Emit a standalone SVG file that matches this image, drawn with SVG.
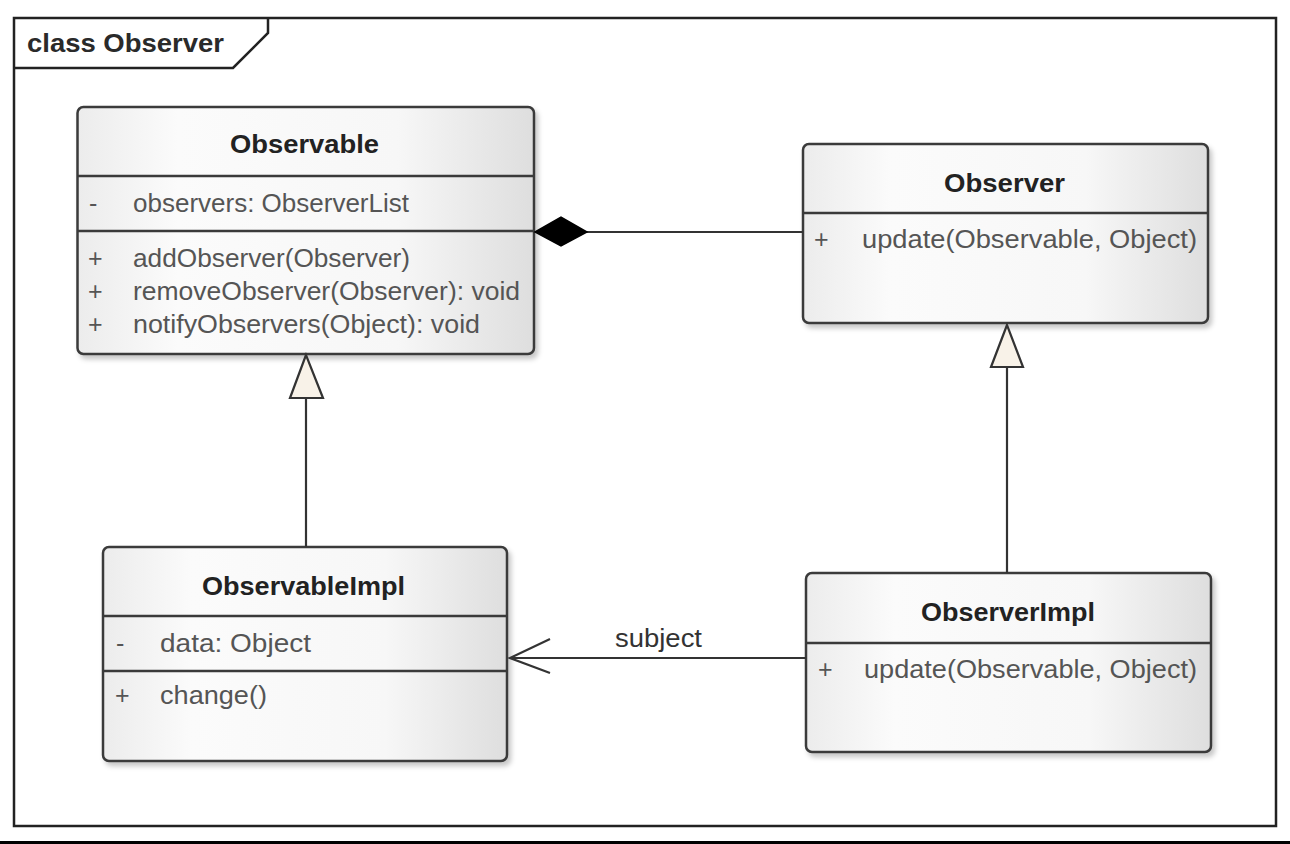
<svg xmlns="http://www.w3.org/2000/svg" width="1290" height="844" viewBox="0 0 1290 844">
  <style>
    .box { stroke: #3a3a3a; stroke-width: 2.5; fill: url(#boxfill); filter: url(#shadow); }
    .sep { stroke: #3a3a3a; stroke-width: 2.5; fill: none; }
    .title { font-family: "Liberation Sans", Arial, sans-serif; font-weight: bold; font-size: 25px; fill: #222; }
    .member { font-family: "Liberation Sans", Arial, sans-serif; font-size: 25px; fill: #555; }
    .frame-title { font-family: "Liberation Sans", Arial, sans-serif; font-weight: bold; font-size: 25px; fill: #2a2a2a; }
    .conn { stroke: #333; stroke-width: 2.2; fill: none; }
    .label { font-family: "Liberation Sans", Arial, sans-serif; font-size: 25px; fill: #333; }
  </style>
  <defs>
    <linearGradient id="boxfill" x1="0" y1="0" x2="1" y2="0">
      <stop offset="0" stop-color="#ececec"/>
      <stop offset="0.22" stop-color="#fbfbfb"/>
      <stop offset="0.7" stop-color="#f7f7f7"/>
      <stop offset="1" stop-color="#dedede"/>
    </linearGradient>
    <filter id="shadow" x="-5%" y="-5%" width="115%" height="115%">
      <feDropShadow dx="3" dy="4" stdDeviation="2.5" flood-color="#000" flood-opacity="0.22"/>
    </filter>
  </defs>

  <rect width="1290" height="844" fill="#ffffff"/>

  <g id="frame">
    <rect x="14" y="18" width="1262" height="808" fill="none" stroke="#222" stroke-width="2.5"/>
    <path d="M14,68 L233,68 L268,33 L268,18" fill="none" stroke="#222" stroke-width="2.5"/>
    <text class="frame-title" x="27" y="52" textLength="197" lengthAdjust="spacingAndGlyphs">class Observer</text>
  </g>

  <g id="node-observable">
    <rect class="box" x="77.5" y="107" width="456.5" height="247" rx="6"/>
    <line class="sep" x1="77.5" y1="176" x2="534" y2="176"/>
    <line class="sep" x1="77.5" y1="231" x2="534" y2="231"/>
    <text class="title" x="230" y="153" textLength="149" lengthAdjust="spacingAndGlyphs">Observable</text>
    <text class="member" x="89" y="212">-</text>
    <text class="member" x="133" y="212" textLength="276" lengthAdjust="spacingAndGlyphs">observers: ObserverList</text>
    <text class="member" x="88" y="267">+</text>
    <text class="member" x="133" y="267" textLength="277" lengthAdjust="spacingAndGlyphs">addObserver(Observer)</text>
    <text class="member" x="88" y="300">+</text>
    <text class="member" x="133" y="300" textLength="387" lengthAdjust="spacingAndGlyphs">removeObserver(Observer): void</text>
    <text class="member" x="88" y="333">+</text>
    <text class="member" x="133" y="333" textLength="347" lengthAdjust="spacingAndGlyphs">notifyObservers(Object): void</text>
  </g>

  <g id="node-observer">
    <rect class="box" x="803" y="144" width="405" height="179" rx="6"/>
    <line class="sep" x1="803" y1="213" x2="1208" y2="213"/>
    <text class="title" x="944" y="192" textLength="121" lengthAdjust="spacingAndGlyphs">Observer</text>
    <text class="member" x="814" y="248">+</text>
    <text class="member" x="862" y="248" textLength="335" lengthAdjust="spacingAndGlyphs">update(Observable, Object)</text>
  </g>

  <g id="node-observableimpl">
    <rect class="box" x="103" y="547" width="404" height="214" rx="6"/>
    <line class="sep" x1="103" y1="616" x2="507" y2="616"/>
    <line class="sep" x1="103" y1="671" x2="507" y2="671"/>
    <text class="title" x="202" y="595" textLength="203" lengthAdjust="spacingAndGlyphs">ObservableImpl</text>
    <text class="member" x="116" y="652">-</text>
    <text class="member" x="160" y="652" textLength="151" lengthAdjust="spacingAndGlyphs">data: Object</text>
    <text class="member" x="115" y="704">+</text>
    <text class="member" x="160" y="704" textLength="107" lengthAdjust="spacingAndGlyphs">change()</text>
  </g>

  <g id="node-observerimpl">
    <rect class="box" x="806" y="573" width="405" height="179" rx="6"/>
    <line class="sep" x1="806" y1="643" x2="1211" y2="643"/>
    <text class="title" x="921" y="621" textLength="174" lengthAdjust="spacingAndGlyphs">ObserverImpl</text>
    <text class="member" x="818" y="678">+</text>
    <text class="member" x="864" y="678" textLength="333" lengthAdjust="spacingAndGlyphs">update(Observable, Object)</text>
  </g>

  <g id="connectors">
    <!-- composition Observable <>— Observer -->
    <line class="conn" x1="587" y1="232" x2="803" y2="232"/>
    <polygon points="535,232 561,217 587,232 561,246" fill="#000" stroke="#000" stroke-width="1.5"/>
    <!-- generalization ObservableImpl -> Observable -->
    <line class="conn" x1="306" y1="547" x2="306" y2="398"/>
    <polygon points="306,355 290,398 323,398" fill="#f8f2e8" stroke="#333" stroke-width="2.2"/>
    <!-- generalization ObserverImpl -> Observer -->
    <line class="conn" x1="1007" y1="573" x2="1007" y2="367"/>
    <polygon points="1007,325 991,367 1023,367" fill="#f8f2e8" stroke="#333" stroke-width="2.2"/>
    <!-- association subject -->
    <line class="conn" x1="510" y1="658" x2="806" y2="658"/>
    <polyline class="conn" points="550,639 510,658 550,673"/>
    <text class="label" x="615" y="647" textLength="87" lengthAdjust="spacingAndGlyphs">subject</text>
  </g>

  <rect x="0" y="841" width="1290" height="3" fill="#000"/>
</svg>
